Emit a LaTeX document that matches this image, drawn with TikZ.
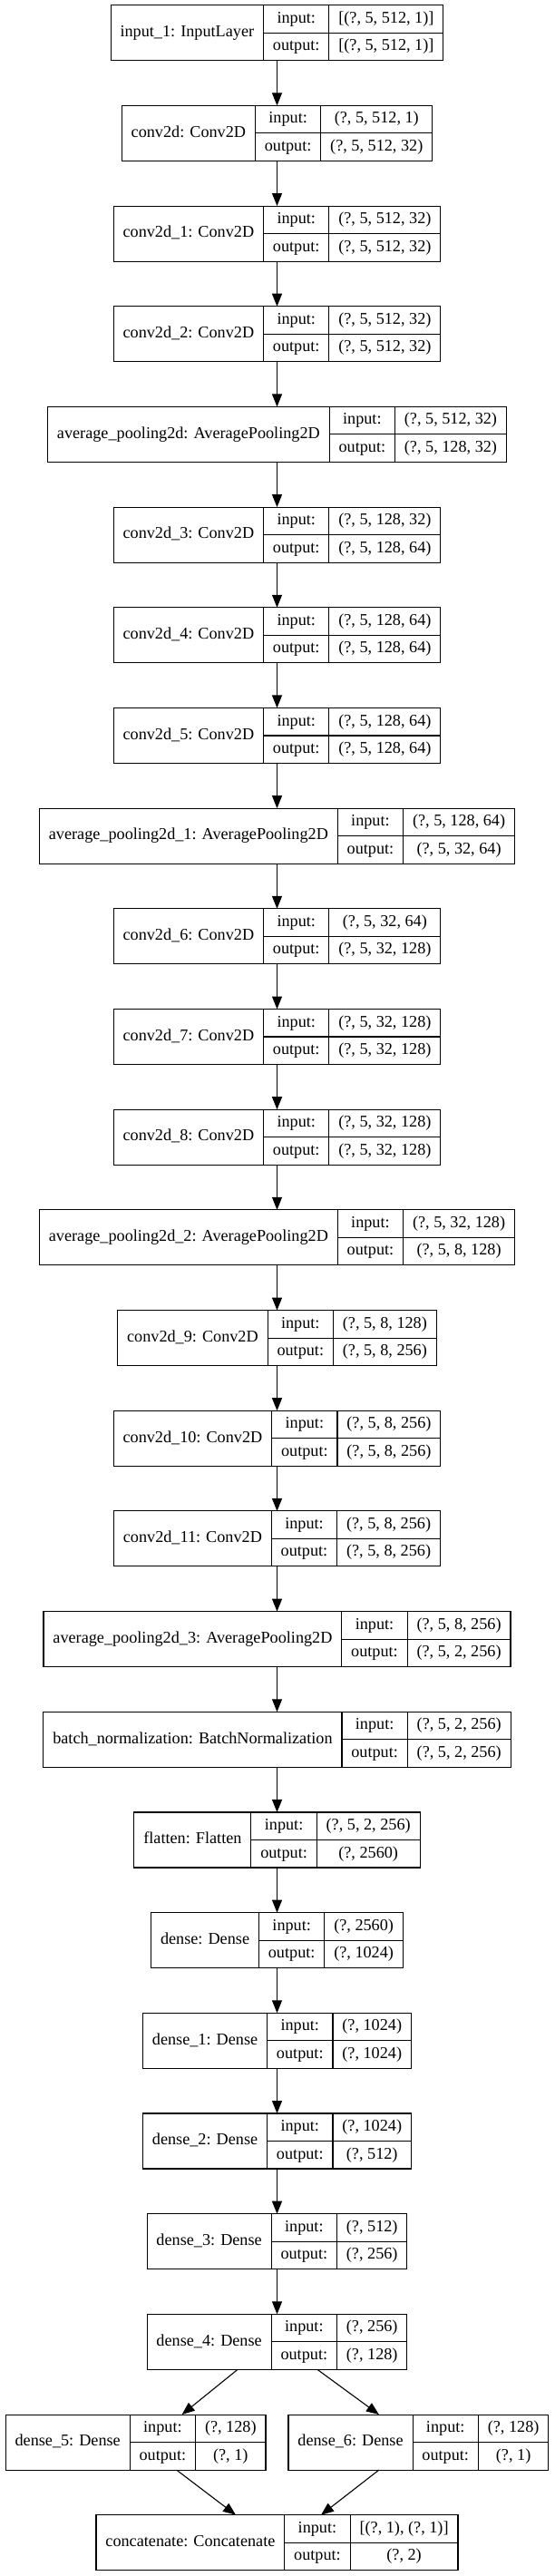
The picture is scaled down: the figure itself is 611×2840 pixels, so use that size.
\documentclass[tikz,border=0pt]{standalone}
\usepackage{fontspec}
\setmainfont{Liberation Serif}
\usetikzlibrary{arrows.meta,calc}
\newlength\lwA \newlength\lwB \newlength\lwC \newlength\lwT \newlength\lwTot
\newlength\cellpad \setlength\cellpad{10.4pt}
\newlength\boxH \setlength\boxH{61pt}
\newlength\rowH \setlength\rowH{30.5pt}
\newcommand\lfont{\fontsize{18.2}{21}\selectfont}
\newcommand\measure[2]{\pgfinterruptpicture\setbox0=\hbox{\lfont #2}\global#1=\wd0\relax\endpgfinterruptpicture}
\tikzset{
  box/.style={inner sep=0pt, outer sep=0pt, minimum height=\boxH},
  cell/.style={draw, line width=1.1pt, inner sep=0pt, outer sep=0pt, font=\lfont,
    text height=12.6pt, text depth=4pt, align=center},
  arr/.style={line width=1.1pt, -{Triangle[length=14pt,width=11pt]}}
}
% \layer{id}{anchor}{x}{ytop}{title}{in}{out}
\newcommand\layer[7]{%
  \measure\lwA{#5}\global\advance\lwA by 2\cellpad
  \measure\lwB{output:}\global\advance\lwB by 2\cellpad
  \measure\lwC{#6}\measure\lwT{#7}%
  \ifdim\lwT>\lwC \global\lwC=\lwT\fi
  \global\advance\lwC by 2\cellpad
  \global\lwTot=\dimexpr\lwA+\lwB+\lwC\relax
  \node[box, minimum width=\lwTot, anchor=#2] (#1) at (#3,#4) {};
  \node[cell, minimum width=\lwA, minimum height=\boxH, anchor=north west] (#1-t) at (#1.north west) {#5};
  \node[cell, minimum width=\lwB, minimum height=\rowH, anchor=north west] (#1-il) at (#1-t.north east) {input:};
  \node[cell, minimum width=\lwB, minimum height=\rowH, anchor=north west] (#1-ol) at (#1-il.south west) {output:};
  \node[cell, minimum width=\lwC, minimum height=\rowH, anchor=north west] (#1-iv) at (#1-il.north east) {#6};
  \node[cell, minimum width=\lwC, minimum height=\rowH, anchor=north west] (#1-ov) at (#1-iv.south west) {#7};
}
\newcommand\rowy[1]{\fpeval{5.7+#1*110.68}}
\begin{document}
\begin{tikzpicture}[x=1pt,y=-1pt]
\useasboundingbox (0,0) rectangle (611,2840);
\def\xc{305.5}
\layer{L0}{north}{\xc}{\rowy{0}}{input\_1: InputLayer}{[(?, 5, 512, 1)]}{[(?, 5, 512, 1)]}
\layer{L1}{north}{\xc}{\rowy{1}}{conv2d: Conv2D}{(?, 5, 512, 1)}{(?, 5, 512, 32)}
\layer{L2}{north}{\xc}{\rowy{2}}{conv2d\_1: Conv2D}{(?, 5, 512, 32)}{(?, 5, 512, 32)}
\layer{L3}{north}{\xc}{\rowy{3}}{conv2d\_2: Conv2D}{(?, 5, 512, 32)}{(?, 5, 512, 32)}
\layer{L4}{north}{\xc}{\rowy{4}}{average\_pooling2d: AveragePooling2D}{(?, 5, 512, 32)}{(?, 5, 128, 32)}
\layer{L5}{north}{\xc}{\rowy{5}}{conv2d\_3: Conv2D}{(?, 5, 128, 32)}{(?, 5, 128, 64)}
\layer{L6}{north}{\xc}{\rowy{6}}{conv2d\_4: Conv2D}{(?, 5, 128, 64)}{(?, 5, 128, 64)}
\layer{L7}{north}{\xc}{\rowy{7}}{conv2d\_5: Conv2D}{(?, 5, 128, 64)}{(?, 5, 128, 64)}
\layer{L8}{north}{\xc}{\rowy{8}}{average\_pooling2d\_1: AveragePooling2D}{(?, 5, 128, 64)}{(?, 5, 32, 64)}
\layer{L9}{north}{\xc}{\rowy{9}}{conv2d\_6: Conv2D}{(?, 5, 32, 64)}{(?, 5, 32, 128)}
\layer{L10}{north}{\xc}{\rowy{10}}{conv2d\_7: Conv2D}{(?, 5, 32, 128)}{(?, 5, 32, 128)}
\layer{L11}{north}{\xc}{\rowy{11}}{conv2d\_8: Conv2D}{(?, 5, 32, 128)}{(?, 5, 32, 128)}
\layer{L12}{north}{\xc}{\rowy{12}}{average\_pooling2d\_2: AveragePooling2D}{(?, 5, 32, 128)}{(?, 5, 8, 128)}
\layer{L13}{north}{\xc}{\rowy{13}}{conv2d\_9: Conv2D}{(?, 5, 8, 128)}{(?, 5, 8, 256)}
\layer{L14}{north}{\xc}{\rowy{14}}{conv2d\_10: Conv2D}{(?, 5, 8, 256)}{(?, 5, 8, 256)}
\layer{L15}{north}{\xc}{\rowy{15}}{conv2d\_11: Conv2D}{(?, 5, 8, 256)}{(?, 5, 8, 256)}
\layer{L16}{north}{\xc}{\rowy{16}}{average\_pooling2d\_3: AveragePooling2D}{(?, 5, 8, 256)}{(?, 5, 2, 256)}
\layer{L17}{north}{\xc}{\rowy{17}}{batch\_normalization: BatchNormalization}{(?, 5, 2, 256)}{(?, 5, 2, 256)}
\layer{L18}{north}{\xc}{\rowy{18}}{flatten: Flatten}{(?, 5, 2, 256)}{(?, 2560)}
\layer{L19}{north}{\xc}{\rowy{19}}{dense: Dense}{(?, 2560)}{(?, 1024)}
\layer{L20}{north}{\xc}{\rowy{20}}{dense\_1: Dense}{(?, 1024)}{(?, 1024)}
\layer{L21}{north}{\xc}{\rowy{21}}{dense\_2: Dense}{(?, 1024)}{(?, 512)}
\layer{L22}{north}{\xc}{\rowy{22}}{dense\_3: Dense}{(?, 512)}{(?, 256)}
\layer{L23}{north}{\xc}{\rowy{23}}{dense\_4: Dense}{(?, 256)}{(?, 128)}
\layer{L24}{north east}{293}{\rowy{24}}{dense\_5: Dense}{(?, 128)}{(?, 1)}
\layer{L25}{north west}{318}{\rowy{24}}{dense\_6: Dense}{(?, 128)}{(?, 1)}
\layer{L26}{north}{\xc}{\rowy{25}}{concatenate: Concatenate}{[(?, 1), (?, 1)]}{(?, 2)}
\foreach \a/\b in {L0/L1,L1/L2,L2/L3,L3/L4,L4/L5,L5/L6,L6/L7,L7/L8,L8/L9,L9/L10,L10/L11,L11/L12,L12/L13,L13/L14,L14/L15,L15/L16,L16/L17,L17/L18,L18/L19,L19/L20,L20/L21,L21/L22,L22/L23}
  \draw[arr] (\a.south) -- (\b.north);
\draw[arr] ($(L23.south)+(-43.5,0)$) -- ($(L24.north)+(51,0)$);
\draw[arr] ($(L23.south)+(44.5,0)$) -- ($(L25.north)+(-43.5,0)$);
\draw[arr] ($(L24.south)+(45,0)$) -- ($(L26.north)+(-45.5,0)$);
\draw[arr] ($(L25.south)+(-43.5,0)$) -- ($(L26.north)+(48.5,0)$);
\end{tikzpicture}
\end{document}
